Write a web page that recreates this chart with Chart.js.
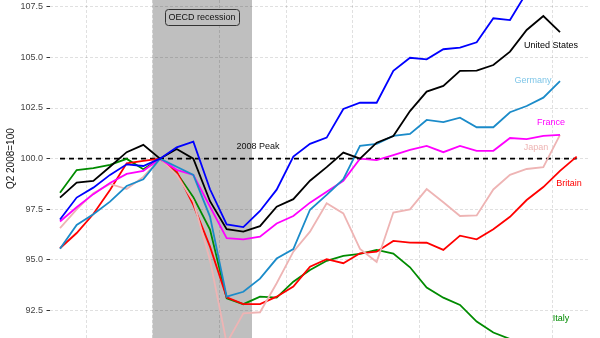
<!DOCTYPE html>
<html>
<head>
<meta charset="utf-8">
<script src="https://cdn.jsdelivr.net/npm/chart.js@4.4.1/dist/chart.umd.min.js"></script>
<style>
  html, body { margin: 0; padding: 0; background: #ffffff; }
  canvas { display: block; }
</style>
</head>
<body>
<canvas id="gdp" width="600" height="338"></canvas>
<script>
// Real GDP by quarter, indexed to Q2 2008 = 100
const quarters = [
  '2006 Q4',
  '2007 Q1', '2007 Q2', '2007 Q3', '2007 Q4',
  '2008 Q1', '2008 Q2', '2008 Q3', '2008 Q4',
  '2009 Q1', '2009 Q2', '2009 Q3', '2009 Q4',
  '2010 Q1', '2010 Q2', '2010 Q3', '2010 Q4',
  '2011 Q1', '2011 Q2', '2011 Q3', '2011 Q4',
  '2012 Q1', '2012 Q2', '2012 Q3', '2012 Q4',
  '2013 Q1', '2013 Q2', '2013 Q3', '2013 Q4',
  '2014 Q1', '2014 Q2', '2014 Q3'
];

const unitedStates = [98.08, 98.82, 98.90, 99.60, 100.32, 100.68, 100.00, 100.48, 100.00, 97.90,
  96.52, 96.40, 96.67, 97.63, 98.00, 98.91, 99.58, 100.30, 100.00, 100.79,
  101.12, 102.35, 103.31, 103.59, 104.33, 104.34, 104.62, 105.28, 106.35, 107.04,
  106.24, null];

const canada = [97.00, 98.08, 98.57, 99.20, 99.72, 99.64, 100.00, 100.56, 100.84, 98.49,
  96.76, 96.62, 97.42, 98.47, 100.10, 100.73, 101.04, 102.45, 102.76, 102.76,
  104.34, 104.98, 104.90, 105.40, 105.48, 105.74, 106.93, 106.84, 108.20, null,
  null, null];

const germany = [95.55, 96.73, 97.26, 97.88, 98.65, 98.98, 100.00, 99.60, 99.20, 97.14,
  93.19, 93.43, 94.08, 95.07, 95.54, 97.48, 98.21, 98.99, 100.63, 100.73,
  101.12, 101.22, 101.91, 101.80, 102.02, 101.55, 101.55, 102.29, 102.60, 103.01,
  103.83, null];

const france = [96.90, 97.60, 98.25, 98.80, 99.25, 99.40, 100.00, 99.45, 99.20, 97.63,
  96.08, 96.02, 96.15, 96.80, 97.17, 97.83, 98.37, 98.91, 100.00, 99.93,
  100.18, 100.43, 100.63, 100.32, 100.63, 100.38, 100.39, 101.02, 100.96, 101.12,
  101.17, null];

const japan = [96.57, 97.50, 98.30, 98.75, 98.50, 99.10, 100.00, 99.20, 97.90, 95.00,
  90.90, 92.37, 92.42, 93.85, 95.41, 96.40, 97.80, 97.30, 95.55, 94.90,
  97.34, 97.50, 98.50, 97.85, 97.17, 97.20, 98.48, 99.20, 99.49, 99.58,
  101.17, null];

const britain = [95.58, 96.33, 97.27, 98.45, 99.77, 99.89, 100.00, 99.36, 97.72, 95.66,
  93.16, 92.82, 92.82, 93.19, 93.69, 94.67, 95.04, 94.84, 95.33, 95.41,
  95.94, 95.86, 95.85, 95.50, 96.20, 96.02, 96.52, 97.13, 97.96, 98.60,
  99.40, 100.10];

const italy = [98.32, 99.44, 99.53, 99.69, 99.99, 99.48, 100.00, 99.30, 98.10, 96.50,
  93.11, 92.82, 93.19, 93.14, 93.93, 94.51, 94.96, 95.20, 95.30, 95.50,
  95.32, 94.64, 93.64, 93.14, 92.78, 91.96, 91.42, 91.10, 90.95, 90.85,
  90.90, null];

const peakLevel = 100;
const yTickValues = [92.5, 95.0, 97.5, 100.0, 102.5, 105.0, 107.5];
// year boundaries and the OECD recession, in quarter-index units
const yearBoundaries = [1.56, 5.56, 9.56, 13.56, 17.56, 21.56, 25.56, 29.56];
const recessionSpan = [5.56, 11.52];

const FONT = '"Liberation Sans", Arial, Helvetica, sans-serif';
const toPoints = arr => arr.map((v, i) => ({ x: i, y: v }));

const series = [
  { name: 'Canada', values: canada, color: '#0000ff' },
  { name: 'United States', values: unitedStates, color: '#000000' },
  { name: 'Germany', values: germany, color: '#1b8bc9' },
  { name: 'France', values: france, color: '#ff00ff' },
  { name: 'Japan', values: japan, color: '#eeb4b4' },
  { name: 'Britain', values: britain, color: '#ff0000' },
  { name: 'Italy', values: italy, color: '#008b00' }
];

// text placed next to the line ends, anchored in data units
const seriesLabels = [
  { text: 'United States', x: 29.46, y: 105.56, color: '#000000' },
  { text: 'Germany', x: 28.38, y: 103.88, color: '#7fc6e8' },
  { text: 'France', x: 29.46, y: 101.76, color: '#ff00ff' },
  { text: 'Japan', x: 28.56, y: 100.53, color: '#eeb4b4' },
  { text: 'Britain', x: 30.54, y: 98.75, color: '#ff0000' },
  { text: 'Italy', x: 30.06, y: 92.09, color: '#008b00' }
];

const datasets = series.map(s => ({
  label: s.name,
  data: toPoints(s.values),
  borderColor: s.color,
  backgroundColor: s.color,
  borderWidth: 1.8,
  pointRadius: 0,
  fill: false,
  tension: 0
}));

datasets.push({
  label: '2008 Peak',
  data: toPoints(quarters.map(() => peakLevel)),
  borderColor: '#000000',
  borderWidth: 1.6,
  borderDash: [5, 4],
  pointRadius: 0,
  fill: false
});

const recessionShade = {
  id: 'recessionShade',
  beforeDraw(chart) {
    const { ctx, chartArea: a, scales: { x } } = chart;
    const x0 = x.getPixelForValue(recessionSpan[0]);
    const x1 = x.getPixelForValue(recessionSpan[1]);
    ctx.save();
    ctx.fillStyle = '#bfbfbf';
    ctx.fillRect(x0, a.top, x1 - x0, a.bottom - a.top);
    ctx.restore();
  }
};

const annotations = {
  id: 'annotations',
  afterDraw(chart) {
    const { ctx, scales: { x, y } } = chart;
    ctx.save();
    ctx.font = '9px ' + FONT;
    ctx.textAlign = 'center';
    ctx.textBaseline = 'middle';

    // recession tag
    const tx = x.getPixelForValue(8.52), ty = y.getPixelForValue(106.99);
    const w = ctx.measureText('OECD recession').width + 7;
    const h = 16;
    ctx.beginPath();
    ctx.roundRect(Math.round(tx - w / 2) + 0.5, Math.round(ty - h / 2) + 0.5, Math.round(w), h, 3);
    ctx.fillStyle = '#bfbfbf';
    ctx.fill();
    ctx.strokeStyle = '#333333';
    ctx.lineWidth = 1;
    ctx.stroke();
    ctx.fillStyle = '#111111';
    ctx.fillText('OECD recession', tx, ty + 0.5);

    // peak marker text
    ctx.fillStyle = '#111111';
    ctx.fillText('2008 Peak', x.getPixelForValue(11.88), y.getPixelForValue(100.58));

    seriesLabels.forEach(l => {
      ctx.fillStyle = l.color;
      ctx.fillText(l.text, x.getPixelForValue(l.x), y.getPixelForValue(l.y));
    });

    // y-axis title
    ctx.translate(11, y.getPixelForValue(100));
    ctx.rotate(-Math.PI / 2);
    ctx.font = '10px ' + FONT;
    ctx.fillStyle = '#111111';
    ctx.fillText('Q2 2008=100', 0, 0);
    ctx.restore();
  }
};

new Chart(document.getElementById('gdp'), {
  type: 'line',
  data: { datasets },
  plugins: [recessionShade, annotations],
  options: {
    responsive: false,
    animation: false,
    devicePixelRatio: 1,
    layout: { padding: { left: 0, right: 12, top: 0, bottom: 0 } },
    plugins: { legend: { display: false }, tooltip: { enabled: false } },
    scales: {
      x: {
        type: 'linear',
        min: -0.6,
        max: 31.68,
        afterBuildTicks(s) { s.ticks = yearBoundaries.map(v => ({ value: v })); },
        ticks: { display: false },
        grid: { color: 'rgba(0,0,0,0.12)', drawTicks: false, lineWidth: 1 },
        border: { display: false, dash: [3, 2] },
        afterFit(s) { s.height = 0; s.paddingLeft = 0; s.paddingRight = 0; }
      },
      y: {
        type: 'linear',
        min: 91.15,
        max: 107.83,
        afterBuildTicks(s) { s.ticks = yTickValues.map(v => ({ value: v })); },
        ticks: {
          color: '#444444',
          padding: 3.5,
          font: { family: FONT, size: 9 },
          callback: v => Number(v).toFixed(1)
        },
        grid: { color: 'rgba(0,0,0,0.12)', tickColor: '#333333', tickLength: 3.5, lineWidth: 1 },
        border: { display: false, dash: [3, 2] },
        afterFit(s) { s.width = 50; s.paddingTop = 0; s.paddingBottom = 0; }
      }
    }
  }
});
</script>
</body>
</html>
